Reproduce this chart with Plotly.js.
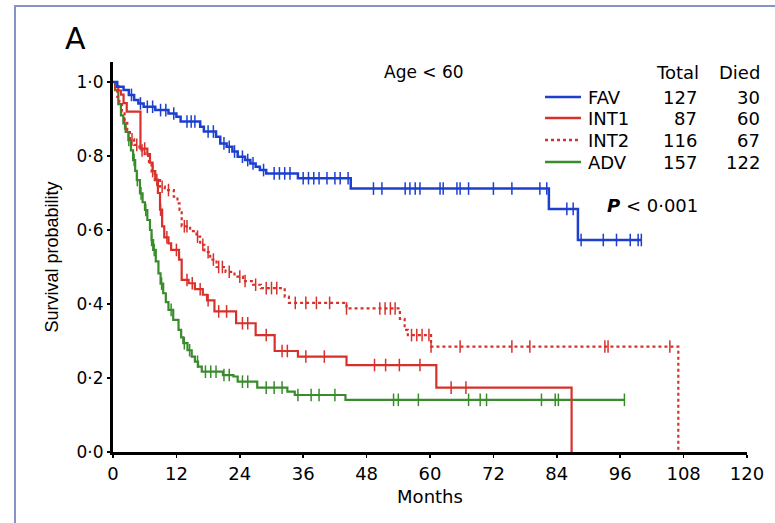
<!DOCTYPE html>
<html>
<head>
<meta charset="utf-8">
<script src="https://cdn.plot.ly/plotly-3.0.1.min.js"></script>
<style>
  html, body { margin: 0; padding: 0; background: #ffffff; overflow: hidden; }
  #wrap { position: relative; width: 775px; height: 523px; overflow: hidden; }
  #chart { position: absolute; left: 0; top: 0; width: 775px; height: 523px; }
  #frame { position: absolute; left: 14px; top: 5px; width: 800px; height: 600px;
           border: 2px solid #8593c8; pointer-events: none; }
</style>
</head>
<body>
<div id="wrap">
  <div id="chart"></div>
  <div id="frame"></div>
</div>
<script>
// ---------- data ----------
const xTickVals = [0, 12, 24, 36, 48, 60, 72, 84, 96, 108, 120];
const yTickVals = [0, 0.2, 0.4, 0.6, 0.8, 1.0];
const yTickText = ['0·0', '0·2', '0·4', '0·6', '0·8', '1·0'];

const groups = ['FAV', 'INT1', 'INT2', 'ADV'];
const totals = [127, 87, 116, 157];
const died = [30, 60, 67, 122];

// FAV (blue)
const favT = [0, 0.8, 2, 3, 4, 4.8, 5.8, 8, 10.5, 12, 12.8, 16.5, 17.2, 19.5, 20.3, 21.5, 22.6, 23.6, 25, 26, 27, 27.8, 29, 35, 45, 82.5, 88];
const favS = [1.0, 0.987, 0.978, 0.965, 0.951, 0.942, 0.933, 0.924, 0.915, 0.906, 0.893, 0.879, 0.866, 0.852, 0.834, 0.825, 0.812, 0.798, 0.789, 0.78, 0.771, 0.762, 0.753, 0.74, 0.712, 0.657, 0.573];
const favEnd = 100;
const favCens = [3.5, 5.2, 6.5, 7.5, 9, 10, 11.5, 14, 14.8, 15.5, 18, 19, 21, 22, 23, 24.5, 25.5, 26.5, 28.5, 30.5, 31.5, 32.5, 33.5, 36, 37, 38, 39, 40.5, 42, 43, 44.5,
  49.3, 50.9, 55.3, 56.2, 57.2, 58.1, 61.9, 62.5, 65.1, 65.7, 67.3, 72.0, 75.5, 80.8, 82.1, 85.9, 87.1, 88.6, 92.8, 95.3, 97.9, 99.4, 100];

// INT1 (red solid)
const int1T = [0, 0.5, 1, 1.5, 2, 2.6, 5.2, 6.5, 7, 7.5, 8, 8.5, 8.9, 9.3, 9.7, 10.5, 11, 12.5, 13, 14.3, 15.5, 17, 17.8, 19.2, 23.3, 27, 30.6, 35, 44.2, 61.2, 86.8];
const int1S = [1.0, 0.989, 0.977, 0.966, 0.943, 0.92, 0.82, 0.805, 0.782, 0.759, 0.736, 0.70, 0.655, 0.61, 0.58, 0.564, 0.546, 0.52, 0.465, 0.456, 0.44, 0.425, 0.41, 0.38, 0.348, 0.316, 0.273, 0.258, 0.235, 0.174, 0.0];
const int1End = 86.8;
const int1Cens = [6, 7.5, 9, 10.2, 12, 14, 15, 16.5, 18, 20, 21.5, 24.5, 25.5, 29, 32, 33, 36.5, 40, 49.5, 51.6, 54.2, 58.1, 64.0, 66.8];

// INT2 (red dotted)
const int2T = [0, 0.4, 0.8, 1.2, 1.7, 2.2, 2.7, 3.2, 4, 5, 6, 6.8, 7.3, 7.9, 8.9, 9.8, 11.5, 12.2, 12.6, 13, 14.6, 15.8, 16.5, 17.3, 18.4, 19.6, 21.3, 23, 24.6, 26.5, 28, 32.5, 33.3, 44.2, 54.3, 55.2, 55.8, 60.2, 107];
const int2S = [1.0, 0.98, 0.96, 0.94, 0.92, 0.895, 0.87, 0.845, 0.83, 0.815, 0.80, 0.78, 0.755, 0.735, 0.717, 0.708, 0.69, 0.672, 0.654, 0.61, 0.597, 0.582, 0.56, 0.54, 0.52, 0.50, 0.487, 0.474, 0.462, 0.452, 0.443, 0.42, 0.403, 0.388, 0.36, 0.33, 0.316, 0.285, 0.0];
const int2End = 107;
const int2Cens = [3.6, 4.5, 5.5, 8.3, 9.3, 10.5, 13.5, 14, 16, 17, 18, 19, 20, 20.7, 22, 24, 25, 27, 29, 30, 31, 34.5, 36.5, 38.5, 41, 44.2, 50.5, 51.5, 52.5, 53.4, 56.5, 57.5, 58.5, 59.8, 60.2, 65.7, 75.5, 78.9, 93.1, 93.7, 105.4];

// ADV (green)
const advT = [0, 0.4, 1, 1.5, 1.95, 2.4, 2.9, 3.4, 3.8, 4.2, 4.5, 5.1, 5.6, 6.05, 6.5, 7, 7.3, 7.6, 8.1, 8.6, 9, 9.5, 10, 10.5, 11.4, 12.4, 12.9, 13.3, 14.1, 14.9, 15.5, 16.1, 16.8, 20.8, 22.8, 23.6, 27.3, 33, 34.4, 44];
const advS = [1.0, 0.978, 0.94, 0.91, 0.888, 0.865, 0.843, 0.815, 0.789, 0.76, 0.735, 0.699, 0.675, 0.654, 0.627, 0.60, 0.573, 0.546, 0.515, 0.483, 0.455, 0.429, 0.405, 0.384, 0.357, 0.33, 0.31, 0.294, 0.275, 0.258, 0.244, 0.231, 0.217, 0.208, 0.204, 0.19, 0.174, 0.163, 0.154, 0.141];
const advEnd = 96.8;
const advCens = [2.2, 3.0, 4.0, 4.6, 5.3, 6.2, 7.3, 7.8, 9.2, 11, 13.5, 14.5, 16, 17.5, 18.5, 19.5, 21, 22, 24.5, 25.5, 29, 30.5, 32, 35, 37.5, 39, 42,
  53.1, 54, 57.8, 67.3, 69.5, 70.7, 81.1, 83.7, 84.3, 96.8];

// ---------- styles ----------
const colors = { FAV: '#1c3fd0', INT1: '#d8312c', INT2: '#d8312c', ADV: '#3a8b2c' };
const dashes = { FAV: 'solid', INT1: 'solid', INT2: 'dot', ADV: 'solid' };
const FONT = 'DejaVu Sans, Liberation Sans, Arial, sans-serif';

function survAt(T, S, t) {
  let s = S[0];
  for (let i = 0; i < T.length; i++) { if (T[i] <= t) s = S[i]; }
  return s;
}

function stepTrace(name, T, S, end) {
  const x = T.slice(), y = S.slice();
  if (end > T[T.length - 1]) { x.push(end); y.push(S[S.length - 1]); }
  return {
    type: 'scatter', mode: 'lines', x: x, y: y, name: name,
    line: { shape: 'hv', color: colors[name], width: name === 'FAV' ? 2.5 : 2.2, dash: dashes[name] },
    hoverinfo: 'skip', cliponaxis: false
  };
}
function censTrace(name, T, S, C) {
  return {
    type: 'scatter', mode: 'markers', x: C, y: C.map(t => survAt(T, S, t)), name: name + ' censored',
    marker: { symbol: 'line-ns-open', size: 9, color: colors[name], line: { color: colors[name], width: 1.5 } },
    hoverinfo: 'skip', cliponaxis: false
  };
}

const series = [
  ['ADV', advT, advS, advEnd, advCens],
  ['INT2', int2T, int2S, int2End, int2Cens],
  ['INT1', int1T, int1S, int1End, int1Cens],
  ['FAV', favT, favS, favEnd, favCens]
];
const data = [];
series.forEach(s => {
  data.push(stepTrace(s[0], s[1], s[2], s[3]));
  data.push(censTrace(s[0], s[1], s[2], s[4]));
});

// ---------- layout ----------
const L = 113, R = 747, B = 452, T0 = 62;
const W = R - L, H = B - T0;
const px = x => (x - L) / W;
const py = y => (B - y) / H;

const annotations = [
  { text: 'A', x: px(75), y: py(38), xanchor: 'center', yanchor: 'middle', font: { family: FONT, size: 30, color: '#000' } },
  { text: 'Age < 60', x: px(424), y: py(72), xanchor: 'center', yanchor: 'middle', font: { family: FONT, size: 17, color: '#000' } },
  { text: 'Total', x: px(701), y: py(72), xanchor: 'right', yanchor: 'middle', font: { family: FONT, size: 18, color: '#000' } },
  { text: 'Died', x: px(762), y: py(72), xanchor: 'right', yanchor: 'middle', font: { family: FONT, size: 18, color: '#000' } },
  { text: '<b><i>P</i></b> < 0·001', x: px(605), y: py(205), xanchor: 'left', yanchor: 'middle', font: { family: FONT, size: 18, color: '#000' } }
];
const rowY = [97, 118, 140, 162];
const shapes = [];
groups.forEach((g, i) => {
  annotations.push({ text: g, x: px(586), y: py(rowY[i]), xanchor: 'left', yanchor: 'middle', font: { family: FONT, size: 18, color: '#000' } });
  annotations.push({ text: String(totals[i]), x: px(699), y: py(rowY[i]), xanchor: 'right', yanchor: 'middle', font: { family: FONT, size: 18, color: '#000' } });
  annotations.push({ text: String(died[i]), x: px(762), y: py(rowY[i]), xanchor: 'right', yanchor: 'middle', font: { family: FONT, size: 18, color: '#000' } });
  shapes.push({ type: 'line', xref: 'paper', yref: 'paper', x0: px(545), x1: px(581), y0: py(rowY[i]), y1: py(rowY[i]),
    line: { color: colors[g], width: 2.5, dash: dashes[g] } });
});
annotations.forEach(a => { a.xref = 'paper'; a.yref = 'paper'; a.showarrow = false; });

const layout = {
  width: 775, height: 523,
  margin: { l: L, r: 775 - R, t: T0, b: 523 - B, pad: 0 },
  paper_bgcolor: '#ffffff', plot_bgcolor: '#ffffff',
  showlegend: false,
  font: { family: FONT, size: 18, color: '#000' },
  xaxis: {
    range: [0, 120], tickvals: xTickVals, ticktext: xTickVals.map(String),
    showline: true, linecolor: '#000', linewidth: 3, zeroline: false, showgrid: false,
    ticks: 'outside', ticklen: 3, tickwidth: 1.5, tickcolor: '#000',
    tickfont: { family: FONT, size: 18, color: '#000' },
    title: { text: 'Months', font: { family: FONT, size: 18, color: '#000' }, standoff: 8 }
  },
  yaxis: {
    range: [0, 1.054], tickvals: yTickVals, ticktext: yTickText,
    showline: true, linecolor: '#000', linewidth: 3, zeroline: false, showgrid: false,
    ticks: 'outside', ticklen: 3, tickwidth: 1.5, tickcolor: '#000',
    tickfont: { family: FONT, size: 17, color: '#000' },
    title: { text: 'Survival probability', font: { family: 'Liberation Sans, Arial, sans-serif', size: 18, color: '#000' }, standoff: 14 }
  },
  annotations: annotations,
  shapes: shapes
};

Plotly.newPlot('chart', data, layout, { staticPlot: true, displayModeBar: false });
</script>
</body>
</html>
